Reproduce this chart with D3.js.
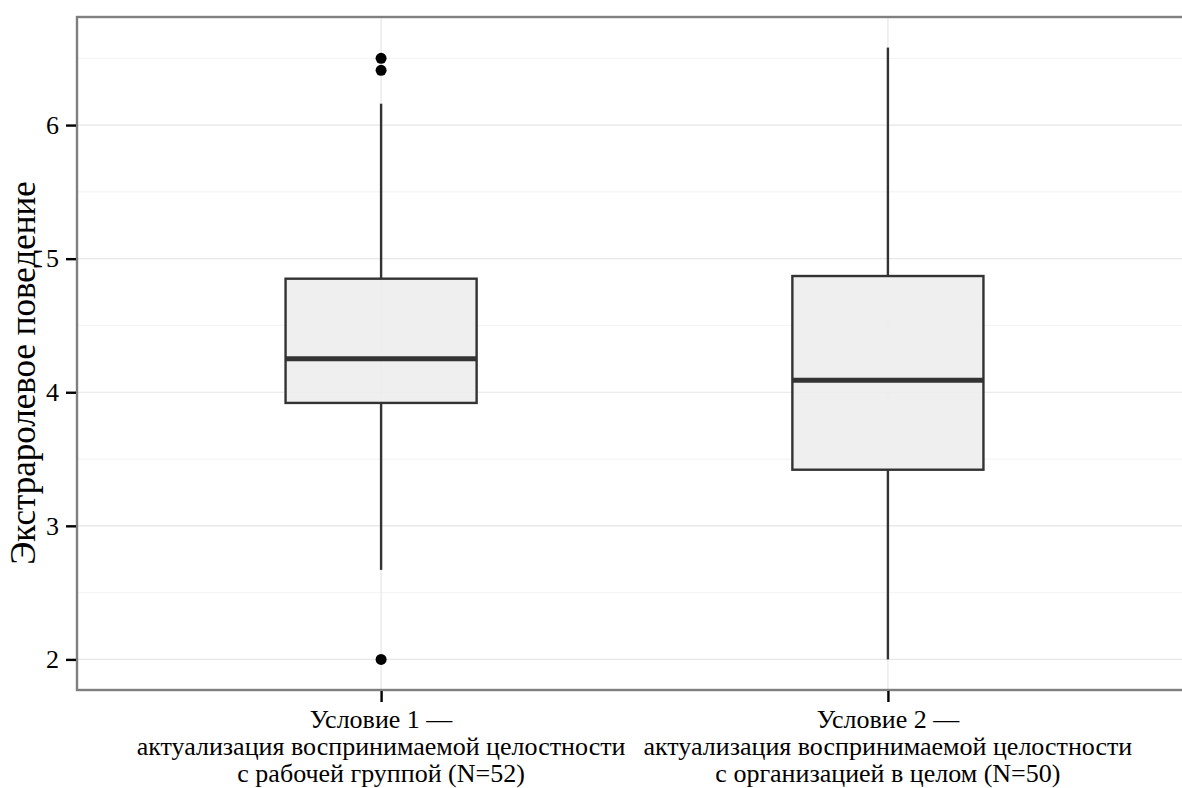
<!DOCTYPE html>
<html>
<head>
<meta charset="utf-8">
<script src="https://cdn.jsdelivr.net/npm/d3@7"></script>
<style>
  body { margin: 0; background: #fff; }
</style>
</head>
<body>
<div id="chart"></div>
<script>
// categories and box stats
var groups = ["g1", "g2"]
var groupLabels = [
  ["Условие 1 —", "актуализация воспринимаемой целостности", "с рабочей группой (N=52)"],
  ["Условие 2 —", "актуализация воспринимаемой целостности", "с организацией в целом (N=50)"]
]
var lowerWhisker = [2.67, 2.0]
var q1 = [3.92, 3.42]
var medians = [4.25, 4.09]
var q3 = [4.85, 4.87]
var upperWhisker = [6.16, 6.58]
var outliers = [[6.5, 6.41, 2.0], []]
var yTicks = [2, 3, 4, 5, 6]
var yMinor = [2.5, 3.5, 4.5, 5.5, 6.5]

var width = 1182, height = 788
var panel = {left: 77, top: 17, right: 1192, bottom: 690}

var svg = d3.select("#chart").append("svg")
  .attr("width", width)
  .attr("height", height)

// y range = data range (2 .. 6.58) plus 5% each side
var y = d3.scaleLinear().domain([1.771, 6.809]).range([panel.bottom, panel.top])
var x = d3.scalePoint().domain(groups).range([panel.left, panel.right]).padding(0.6)
var boxW = 0.377 * x.step()

var plot = svg.append("g")

// gridlines
plot.selectAll(".minor").data(yMinor).enter().append("line")
  .attr("x1", panel.left).attr("x2", panel.right)
  .attr("y1", d => y(d)).attr("y2", d => y(d))
  .style("stroke", "#f5f5f5").style("stroke-width", 1.2)
plot.selectAll(".major").data(yTicks).enter().append("line")
  .attr("x1", panel.left).attr("x2", panel.right)
  .attr("y1", d => y(d)).attr("y2", d => y(d))
  .style("stroke", "#e6e6e6").style("stroke-width", 1.2)
plot.selectAll(".vmajor").data(groups).enter().append("line")
  .attr("x1", d => x(d)).attr("x2", d => x(d))
  .attr("y1", panel.top).attr("y2", panel.bottom)
  .style("stroke", "#e6e6e6").style("stroke-width", 1.2)

// boxes
var box = plot.selectAll(".box").data(groups).enter().append("g")

box.append("line")
  .attr("x1", d => x(d)).attr("x2", d => x(d))
  .attr("y1", (d, i) => y(upperWhisker[i])).attr("y2", (d, i) => y(q3[i]))
  .style("stroke", "#333").style("stroke-width", 2.4)
box.append("line")
  .attr("x1", d => x(d)).attr("x2", d => x(d))
  .attr("y1", (d, i) => y(q1[i])).attr("y2", (d, i) => y(lowerWhisker[i]))
  .style("stroke", "#333").style("stroke-width", 2.4)
box.append("rect")
  .attr("x", d => x(d) - boxW / 2)
  .attr("width", boxW)
  .attr("y", (d, i) => y(q3[i]))
  .attr("height", (d, i) => y(q1[i]) - y(q3[i]))
  .style("fill", "#ededed").style("fill-opacity", 0.9)
  .style("stroke", "#333").style("stroke-width", 2.4)
box.append("line")
  .attr("x1", d => x(d) - boxW / 2).attr("x2", d => x(d) + boxW / 2)
  .attr("y1", (d, i) => y(medians[i])).attr("y2", (d, i) => y(medians[i]))
  .style("stroke", "#333").style("stroke-width", 5)

// outliers
groups.forEach(function(g, i) {
  plot.selectAll(".out" + i).data(outliers[i]).enter().append("circle")
    .attr("cx", x(g))
    .attr("cy", d => y(d))
    .attr("r", 5.5)
    .style("fill", "#000")
})

// panel border
svg.append("rect")
  .attr("x", panel.left).attr("y", panel.top)
  .attr("width", panel.right - panel.left).attr("height", panel.bottom - panel.top)
  .style("fill", "none").style("stroke", "#7f7f7f").style("stroke-width", 2.4)

// axes
var yAxis = svg.append("g")
  .attr("transform", `translate(${panel.left - 1},0)`)
  .call(d3.axisLeft(y).tickValues(yTicks).tickSize(10).tickPadding(7).tickFormat(d3.format("d")))
yAxis.attr("font-family", null).attr("font-size", null)
yAxis.select(".domain").remove()
yAxis.selectAll(".tick line").style("stroke", "#000").style("stroke-width", 2.4)
yAxis.selectAll(".tick text")
  .attr("style", "font-family:'Liberation Serif';font-size:26px;fill:#000")

var xAxis = svg.append("g")
  .attr("transform", `translate(0,${panel.bottom + 1})`)
  .call(d3.axisBottom(x).tickSize(11).tickFormat(""))
xAxis.select(".domain").remove()
xAxis.selectAll(".tick line").style("stroke", "#000").style("stroke-width", 2.4)

var xl = svg.selectAll(".xlab").data(groups).enter().append("text")
  .attr("text-anchor", "middle")
  .attr("style", "font-family:'Liberation Serif';font-size:26px;fill:#000")
xl.each(function(g, i) {
  var t = d3.select(this)
  groupLabels[i].forEach(function(line, j) {
    t.append("tspan").attr("x", x(g)).attr("y", 728 + j * 27).text(line)
  })
})

// y title sits a bit below the panel centre in the original
svg.append("text")
  .attr("transform", "translate(35,373) rotate(-90)")
  .attr("text-anchor", "middle")
  .attr("style", "font-family:'Liberation Serif';font-size:35px;fill:#000")
  .text("Экстраролевое поведение")
</script>
</body>
</html>
